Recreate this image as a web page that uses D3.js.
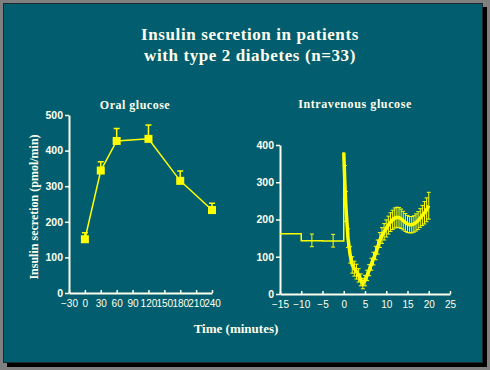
<!DOCTYPE html>
<html>
<head>
<meta charset="utf-8">
<script src="https://cdn.jsdelivr.net/npm/d3@7"></script>
<style>
  body { margin: 0; background: #808080; }
  svg { display: block; }
</style>
</head>
<body>
<svg id="chart" width="490" height="370"></svg>
<script>
// oral glucose (minutes, pmol/min)
const oralTimes = [0, 30, 60, 120, 180, 240];
const oralMeans = [151, 344, 427, 433, 315, 233];
const oralUpper = [169, 369, 462, 472, 343, 252];
const oralXTicks = [-30, 0, 30, 60, 90, 120, 150, 180, 210, 240];
const oralYTicks = [0, 100, 200, 300, 400, 500];

// intravenous glucose: basal steps before injection
const ivBaseTimes = [-15, -10, -5, 0];
const ivBaseValues = [162, 143, 142, 380];
const ivBaseBarTimes = [-7.5, -2.5];
const ivBaseBarMeans = [144, 143];
const ivBaseBarErr = [17, 17];

// intravenous glucose: after injection
const ivTimes = [0, 0.25, 0.5, 1, 1.5, 2, 2.5, 3, 3.5, 4, 4.5, 5, 5.5, 6, 6.5, 7, 7.5, 8, 8.5, 9, 9.5,
  10, 10.5, 11, 11.5, 12, 12.5, 13, 13.5, 14, 14.5, 15, 15.5, 16, 16.5, 17, 17.5, 18, 18.5, 19, 19.5, 20];
const ivMeans = [380, 300, 235, 150, 105, 78, 68, 60, 50, 38, 28, 36, 50, 64, 80, 95, 110, 126, 145, 157, 167,
  176, 185, 193, 199, 204, 206, 205, 202, 197, 192, 188, 186, 186, 188, 192, 197, 204, 211, 218, 226, 237];
const ivErr = [0, 45, 40, 25, 22, 22, 20, 20, 18, 16, 14, 14, 14, 15, 16, 17, 18, 19, 20, 21, 22,
  23, 24, 25, 26, 27, 27, 27, 26, 25, 24, 23, 22, 22, 22, 23, 24, 25, 27, 30, 32, 36];
const ivXTicks = [-15, -10, -5, 0, 5, 10, 15, 20, 25];
const ivYTicks = [0, 100, 200, 300, 400];

const teal = '#025e6e';
const cream = '#fffff0';
const yellow = '#ffff00';

const svg = d3.select('#chart');

// shadow + panel
svg.append('rect').attr('x', 7).attr('y', 7).attr('width', 480).attr('height', 360).attr('fill', '#000');
svg.append('rect').attr('x', 3.5).attr('y', 3.5).attr('width', 479).attr('height', 359)
  .attr('fill', teal).attr('stroke', '#1a2a2e').attr('stroke-width', 1);

// titles
const serif = '"Liberation Serif", "Times New Roman", serif';
const sans = '"Liberation Sans", Arial, sans-serif';
svg.append('text').attr('x', 250).attr('y', 40).attr('text-anchor', 'middle')
  .style('font', `bold 17px ${serif}`).style('letter-spacing', '0.6px').attr('fill', cream)
  .text('Insulin secretion in patients');
svg.append('text').attr('x', 250).attr('y', 61).attr('text-anchor', 'middle')
  .style('font', `bold 17px ${serif}`).style('letter-spacing', '0.6px').attr('fill', cream)
  .text('with type 2 diabetes (n=33)');

svg.append('text').attr('x', 135).attr('y', 109).attr('text-anchor', 'middle')
  .style('font', `bold 12px ${serif}`).style('letter-spacing', '0.5px').attr('fill', cream).text('Oral glucose');
svg.append('text').attr('x', 355).attr('y', 108).attr('text-anchor', 'middle')
  .style('font', `bold 12px ${serif}`).style('letter-spacing', '0.6px').attr('fill', cream).text('Intravenous glucose');

svg.append('text').attr('transform', 'translate(38,207) rotate(-90)').attr('text-anchor', 'middle')
  .style('font', `bold 12px ${serif}`).attr('fill', cream).text('Insulin secretion (pmol/min)');
svg.append('text').attr('x', 236).attr('y', 333).attr('text-anchor', 'middle')
  .style('font', `bold 13px ${serif}`).attr('fill', cream).text('Time (minutes)');

function drawAxes(x, y, xTicks, yTicks) {
  const gx = svg.append('g').attr('transform', `translate(0,${y.range()[0]})`)
    .call(d3.axisBottom(x).tickValues(xTicks).tickSizeInner(-3).tickSizeOuter(0).tickPadding(7));
  const gy = svg.append('g').attr('transform', `translate(${x.range()[0]},0)`)
    .call(d3.axisLeft(y).tickValues(yTicks).tickSizeInner(4).tickSizeOuter(0).tickPadding(2));
  [gx, gy].forEach(g => {
    g.select('.domain').attr('stroke', cream).attr('stroke-width', 2);
    g.selectAll('.tick line').attr('stroke', cream).attr('stroke-width', 1.5);
    g.selectAll('.tick text').attr('fill', cream);
  });
  gx.selectAll('.tick text').style('font', `10px ${sans}`);
  gy.selectAll('.tick text').style('font', `bold 10.5px ${sans}`);
}

// ---- oral panel
const xO = d3.scaleLinear().domain([-30, 240]).range([69, 212]);
const yO = d3.scaleLinear().domain([0, 500]).range([293, 115]);
drawAxes(xO, yO, oralXTicks, oralYTicks);

const oral = oralTimes.map((t, i) => ({ t, m: oralMeans[i], u: oralUpper[i] }));
const gO = svg.append('g');
gO.selectAll('.bar').data(oral).join('path')
  .attr('d', d => `M${xO(d.t)},${yO(d.m)}V${yO(d.u)}M${xO(d.t) - 3},${yO(d.u)}H${xO(d.t) + 3}`)
  .attr('stroke', yellow).attr('stroke-width', 1.5).attr('fill', 'none');
gO.append('path').datum(oral)
  .attr('d', d3.line().x(d => xO(d.t)).y(d => yO(d.m)))
  .attr('stroke', yellow).attr('stroke-width', 1.5).attr('fill', 'none');
gO.selectAll('rect').data(oral).join('rect')
  .attr('x', d => xO(d.t) - 4).attr('y', d => yO(d.m) - 4)
  .attr('width', 8).attr('height', 8).attr('fill', yellow);

// ---- intravenous panel
const xI = d3.scaleLinear().domain([-15, 25]).range([280, 450]);
const yI = d3.scaleLinear().domain([0, 400]).range([294, 145]);
drawAxes(xI, yI, ivXTicks, ivYTicks);

const gI = svg.append('g');
const base = ivBaseTimes.map((t, i) => [t, ivBaseValues[i]]);
gI.append('path').datum(base)
  .attr('d', d3.line().curve(d3.curveStepAfter).x(d => xI(d[0])).y(d => yI(d[1])))
  .attr('stroke', yellow).attr('stroke-width', 1.5).attr('fill', 'none');

const baseBars = ivBaseBarTimes.map((t, i) => ({ t, m: ivBaseBarMeans[i], e: ivBaseBarErr[i] }));
const iv = ivTimes.map((t, i) => ({ t, m: ivMeans[i], e: ivErr[i] }));
const barPath = d => {
  const cx = xI(d.t), lo = yI(d.m - d.e), hi = yI(d.m + d.e);
  return `M${cx},${lo}V${hi}M${cx - 2},${hi}H${cx + 2}M${cx - 2},${lo}H${cx + 2}`;
};
gI.selectAll('.bb').data(baseBars.concat(iv.filter(d => d.e > 0))).join('path')
  .attr('d', barPath)
  .attr('stroke', yellow).attr('stroke-width', 1).attr('fill', 'none');
gI.append('path').datum(iv)
  .attr('d', d3.line().x(d => xI(d.t)).y(d => yI(d.m)))
  .attr('stroke', yellow).attr('stroke-width', 3.5).attr('fill', 'none');
</script>
</body>
</html>
